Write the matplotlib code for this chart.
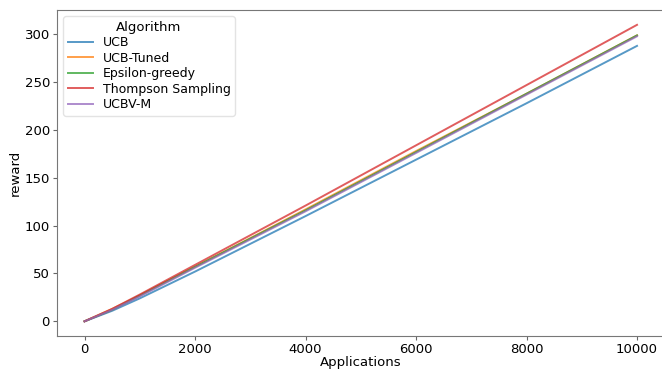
import matplotlib
matplotlib.use("Agg")
import matplotlib.pyplot as plt

# Dane (nagroda skumulowana)
steps = [0, 500, 1000, 2000, 4000, 6000, 8000, 10000]
ucb = [0, 11, 24, 52, 110, 169, 228, 288]
ucb_tuned = [0, 13, 27, 57, 117, 178, 238, 299]
eps_greedy = [0, 12, 27, 57, 116, 177, 238, 299]
thompson = [0, 13, 28, 59, 121, 184, 247, 310]
ucbv_m = [0, 12, 26, 56, 115, 176, 237, 298]

series = [
    ("UCB", ucb),
    ("UCB-Tuned", ucb_tuned),
    ("Epsilon-greedy", eps_greedy),
    ("Thompson Sampling", thompson),
    ("UCBV-M", ucbv_m),
]

plt.rcParams["font.family"] = "DejaVu Sans"
fig = plt.figure(figsize=(6.62, 3.71), dpi=100)
ax = fig.add_axes([0.086, 0.094, 0.918, 0.879])

for name, vals in series:
    ax.plot(steps, vals, label=name, linewidth=1.4, alpha=0.75)

ax.set_xlabel("Applications", fontsize=9.5, labelpad=0)
ax.set_ylabel("reward", fontsize=9.5, labelpad=2)
ax.tick_params(labelsize=9.5, length=3, pad=2, color="#666666")
ax.set_xticks([0, 2000, 4000, 6000, 8000, 10000])
ax.set_yticks([0, 50, 100, 150, 200, 250, 300])
for s in ax.spines.values():
    s.set_color("#777777")

leg = ax.legend(title="Algorithm", fontsize=9, title_fontsize=9.5,
                loc="upper left", handlelength=2.0, labelspacing=0.2,
                borderpad=0.35)
leg.get_frame().set_edgecolor("#dddddd")

fig.savefig("out.png", dpi=100)
